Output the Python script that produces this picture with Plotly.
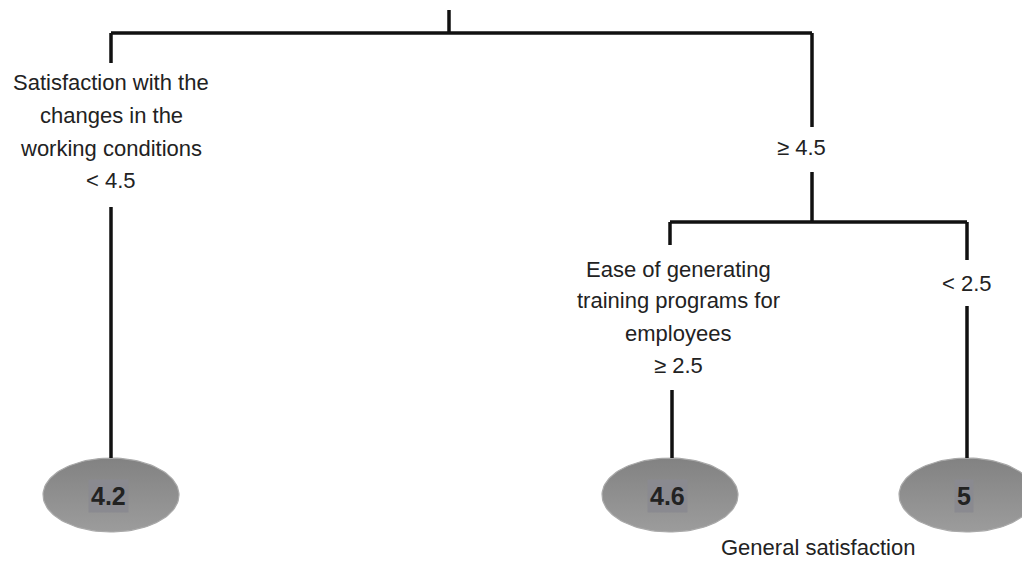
import numpy as np
import plotly.graph_objects as go

# ---- data ----
split_label_lines = [
    ["Satisfaction with the", "changes in the", "working conditions", "&lt; 4.5"],
    ["\u2265 4.5"],
    ["Ease of generating", "training programs for", "employees", "\u2265 2.5"],
    ["&lt; 2.5"],
]
leaf_values = ["4.2", "4.6", "5"]
outcome_label = "General satisfaction"

# ---- layout positions (page pixel space) ----
edge_segments = [
    ((449, 10), (449, 33)),
    ((111, 33), (812, 33)),
    ((111, 33), (111, 63)),
    ((111, 207), (111, 458)),
    ((812, 33), (812, 127)),
    ((812, 172), (812, 222)),
    ((670, 222), (967, 222)),
    ((670, 222), (670, 245)),
    ((672, 390), (672, 458)),
    ((967, 222), (967, 260)),
    ((967, 306), (967, 458)),
]
split_x = [111, 801, 678, 967]
split_line_y = [[82, 115, 148, 180], [147], [269, 300, 333, 365], [283]]
leaf_pos = [(111, 495), (670, 495), (967, 495)]
leaf_rx, leaf_ry = 68, 37
outcome_pos = (818, 547)

FONT = "Liberation Sans, Arial, sans-serif"
OFF = 8  # page body margin

xs, ys = [], []
for (x0, y0), (x1, y1) in edge_segments:
    xs += [x0, x1, None]
    ys += [y0, y1, None]

fig = go.Figure()

# leaf ellipses with a soft vertical gradient
t = np.linspace(0, 2 * np.pi, 120)
for (cx, cy) in leaf_pos:
    fig.add_trace(go.Scatter(
        x=cx + leaf_rx * np.cos(t), y=cy + leaf_ry * np.sin(t),
        mode="lines", fill="toself",
        line=dict(color="#a9a9a9", width=1.2),
        fillgradient=dict(type="vertical",
                          colorscale=[[0, "#9c9c9c"], [1, "#828282"]]),
        hoverinfo="skip", showlegend=False))

fig.add_trace(go.Scatter(x=xs, y=ys, mode="lines",
                         line=dict(color="#111111", width=3.5),
                         hoverinfo="skip", showlegend=False))

annotations = []
for lines, x, ylist in zip(split_label_lines, split_x, split_line_y):
    for txt, y in zip(lines, ylist):
        annotations.append(dict(x=x, y=y, xref="x", yref="y", text=txt,
                                showarrow=False, xanchor="center", yanchor="middle",
                                font=dict(family=FONT, size=22, color="#222222")))
for txt, (x, y) in zip(leaf_values, leaf_pos):
    annotations.append(dict(x=x - 3, y=y + 1, xref="x", yref="y",
                            text="<b>" + txt + "</b>",
                            showarrow=False, xanchor="center", yanchor="middle",
                            bgcolor="#8a8a90", borderpad=2,
                            font=dict(family=FONT, size=25, color="#222222")))
annotations.append(dict(x=outcome_pos[0], y=outcome_pos[1], xref="x", yref="y",
                        text=outcome_label, showarrow=False,
                        xanchor="center", yanchor="middle",
                        font=dict(family=FONT, size=22, color="#222222")))

fig.update_layout(
    width=1030 - OFF, height=561 - OFF,
    margin=dict(l=0, r=0, t=0, b=0),
    paper_bgcolor="white", plot_bgcolor="white",
    xaxis=dict(range=[OFF, 1030], visible=False, fixedrange=True),
    yaxis=dict(range=[561, OFF], visible=False, fixedrange=True),
    annotations=annotations,
)
fig.write_html("out.html")
